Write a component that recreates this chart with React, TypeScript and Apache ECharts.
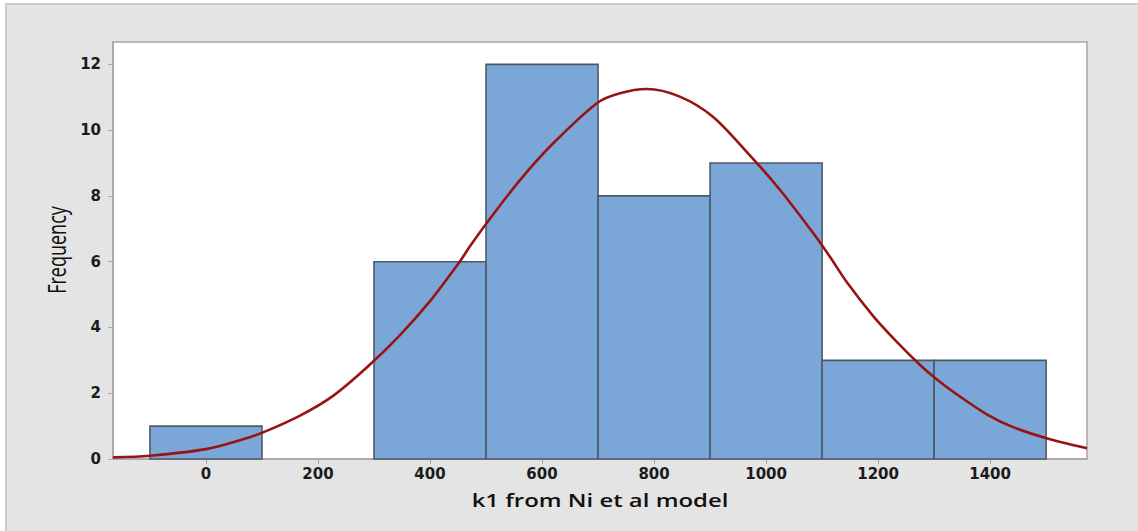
import React, { useEffect, useRef } from "react";
import * as echarts from "echarts";

// Histogram bins: edges and counts
const binEdges = [-100, 100, 300, 500, 700, 900, 1100, 1300, 1500];
const binCounts = [1, 0, 6, 12, 8, 9, 3, 3];

// Fitted normal curve, sampled points
const fitX = [-166, -100, 0, 66, 102, 168, 227, 287, 346, 400, 451, 471, 501, 561, 620, 698, 739, 787, 846, 905, 965, 1025, 1084, 1114, 1144, 1192, 1233, 1275, 1305, 1346, 1394, 1441, 1507, 1573];
const fitY = [0.05, 0.1, 0.3, 0.6, 0.81, 1.32, 1.92, 2.78, 3.76, 4.8, 5.95, 6.46, 7.17, 8.49, 9.6, 10.82, 11.12, 11.25, 11.02, 10.41, 9.35, 8.18, 6.87, 6.15, 5.38, 4.33, 3.57, 2.86, 2.42, 1.9, 1.36, 0.97, 0.6, 0.33];

const xTicks = [0, 200, 400, 600, 800, 1000, 1200, 1400];
const yTicks = [0, 2, 4, 6, 8, 10, 12];

const xTitle = "k1 from Ni et al model";
const yTitle = "Frequency";

export default function App() {
  const ref = useRef<HTMLDivElement>(null);

  useEffect(() => {
    if (!ref.current) return;
    const chart = echarts.init(ref.current, undefined, { renderer: "svg" });

    const histData = binCounts.map((n, i) => [binEdges[i], binEdges[i + 1], n]);
    const curveData = fitX.map((x, i) => [x, fitY[i]]);

    const labelFont = {
      color: "#1b1b1b",
      fontFamily: "DejaVu Sans",
      fontWeight: "bold" as const,
      fontSize: 15,
      formatter: (v: number) => String(v),
    };

    chart.setOption({
      animation: false,
      backgroundColor: "#ffffff",
      graphic: [
        {
          type: "rect",
          z: -100,
          silent: true,
          shape: { x: 6, y: 4, width: 1140, height: 540 },
          style: { fill: "#e4e4e4", stroke: "#cccccc", lineWidth: 2 },
        },
        {
          type: "text",
          x: 56,
          y: 250,
          rotation: Math.PI / 2,
          scaleY: 1.45,
          silent: true,
          style: {
            text: yTitle,
            fontFamily: "Open Sans",
            fontSize: 18,
            fill: "#111111",
            align: "center",
            verticalAlign: "middle",
            textAlign: "center",
            textVerticalAlign: "middle",
          },
        },
        {
          type: "text",
          x: 600,
          y: 500,
          scaleX: 1.33,
          silent: true,
          style: {
            text: xTitle,
            fontFamily: "Open Sans",
            fontWeight: 600,
            fontSize: 18,
            fill: "#111111",
            align: "center",
            verticalAlign: "middle",
            textAlign: "center",
            textVerticalAlign: "middle",
          },
        },
      ],
      grid: {
        left: 113,
        top: 42,
        right: 51,
        bottom: 72,
        show: true,
        backgroundColor: "#ffffff",
        borderColor: "#a6a6a6",
        borderWidth: 1.5,
      },
      xAxis: {
        type: "value",
        min: -166,
        max: 1573,
        splitLine: { show: false },
        axisLine: { show: true, onZero: false, lineStyle: { color: "#a6a6a6", width: 1.5 } },
        axisTick: {
          show: true,
          inside: false,
          length: 5,
          customValues: xTicks,
          lineStyle: { color: "#a6a6a6" },
        },
        axisLabel: { ...labelFont, margin: 7, customValues: xTicks },
      },
      yAxis: {
        type: "value",
        min: 0,
        max: 12.68,
        splitLine: { show: false },
        axisLine: { show: true, onZero: false, lineStyle: { color: "#a6a6a6", width: 1.5 } },
        axisTick: {
          show: true,
          inside: false,
          length: 5,
          customValues: yTicks,
          lineStyle: { color: "#a6a6a6" },
        },
        axisLabel: { ...labelFont, margin: 12, customValues: yTicks },
      },
      series: [
        {
          type: "custom",
          data: histData,
          encode: { x: [0, 1], y: 2 },
          renderItem: (params: any, api: any) => {
            const lo = api.value(0);
            const hi = api.value(1);
            const n = api.value(2);
            if (!n) return { type: "group", children: [] };
            const p0 = api.coord([lo, n]);
            const p1 = api.coord([hi, 0]);
            return {
              type: "rect",
              shape: { x: p0[0], y: p0[1], width: p1[0] - p0[0], height: p1[1] - p0[1] },
              style: { fill: "#7ba7d8", stroke: "#4f5966", lineWidth: 1.6 },
            };
          },
          z: 2,
        },
        {
          type: "line",
          data: curveData,
          smooth: 0.3,
          showSymbol: false,
          clip: true,
          lineStyle: { color: "#981414", width: 2.6 },
          z: 3,
        },
      ],
    });

    return () => chart.dispose();
  }, []);

  return (
    <div
      ref={ref}
      style={{ position: "fixed", left: 0, top: 0, width: 1138, height: 531 }}
    />
  );
}
